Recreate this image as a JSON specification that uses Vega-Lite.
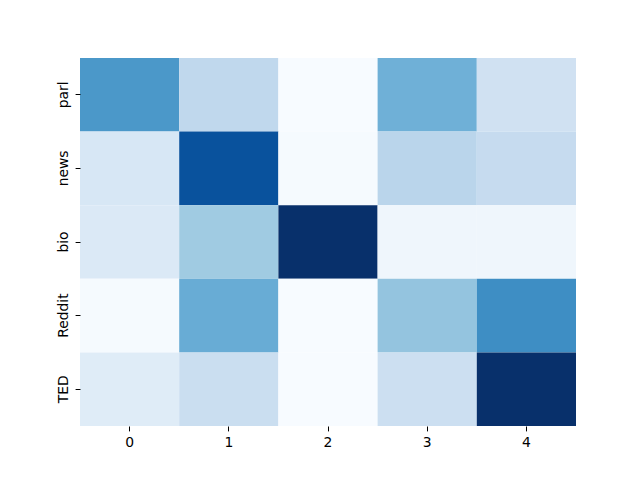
{
  "$schema": "https://vega.github.io/schema/vega-lite/v6.json",
  "width": 496,
  "height": 368,
  "autosize": {"type": "none"},
  "padding": {"left": 80, "top": 58, "right": 64, "bottom": 54},
  "background": "white",
  "config": {"view": {"stroke": null}, "font": "DejaVu Sans"},
  "data": {"values": [
    {"row": "parl", "col": "0", "v": 0.60},
    {"row": "parl", "col": "1", "v": 0.27},
    {"row": "parl", "col": "2", "v": 0.0},
    {"row": "parl", "col": "3", "v": 0.49},
    {"row": "parl", "col": "4", "v": 0.20},
    {"row": "news", "col": "0", "v": 0.16},
    {"row": "news", "col": "1", "v": 0.87},
    {"row": "news", "col": "2", "v": 0.01},
    {"row": "news", "col": "3", "v": 0.29},
    {"row": "news", "col": "4", "v": 0.25},
    {"row": "bio", "col": "0", "v": 0.14},
    {"row": "bio", "col": "1", "v": 0.37},
    {"row": "bio", "col": "2", "v": 1.0},
    {"row": "bio", "col": "3", "v": 0.04},
    {"row": "bio", "col": "4", "v": 0.04},
    {"row": "Reddit", "col": "0", "v": 0.01},
    {"row": "Reddit", "col": "1", "v": 0.51},
    {"row": "Reddit", "col": "2", "v": 0.0},
    {"row": "Reddit", "col": "3", "v": 0.40},
    {"row": "Reddit", "col": "4", "v": 0.64},
    {"row": "TED", "col": "0", "v": 0.12},
    {"row": "TED", "col": "1", "v": 0.23},
    {"row": "TED", "col": "2", "v": 0.0},
    {"row": "TED", "col": "3", "v": 0.22},
    {"row": "TED", "col": "4", "v": 1.0}
  ]},
  "mark": {"type": "rect", "strokeWidth": 0},
  "encoding": {
    "x": {
      "field": "col", "type": "ordinal", "sort": ["0", "1", "2", "3", "4"],
      "scale": {"paddingInner": 0, "paddingOuter": 0},
      "axis": {"title": null, "domain": false, "labelAngle": 0, "tickSize": 4.9, "tickColor": "black", "labelColor": "black", "labelFontSize": 13.9, "labelPadding": 4.9}
    },
    "y": {
      "field": "row", "type": "ordinal", "sort": ["parl", "news", "bio", "Reddit", "TED"],
      "scale": {"paddingInner": 0, "paddingOuter": 0},
      "axis": {"title": null, "domain": false, "labelAngle": 270, "labelAlign": "center", "labelBaseline": "bottom", "tickSize": 4.9, "tickColor": "black", "labelColor": "black", "labelFontSize": 13.9, "labelPadding": 4.9}
    },
    "color": {
      "field": "v", "type": "quantitative", "legend": null,
      "scale": {
        "domain": [0, 0.125, 0.25, 0.375, 0.5, 0.625, 0.75, 0.875, 1],
        "range": ["#f7fbff", "#deebf7", "#c6dbef", "#9ecae1", "#6baed6", "#4292c6", "#2171b5", "#08519c", "#08306b"]
      }
    }
  }
}
